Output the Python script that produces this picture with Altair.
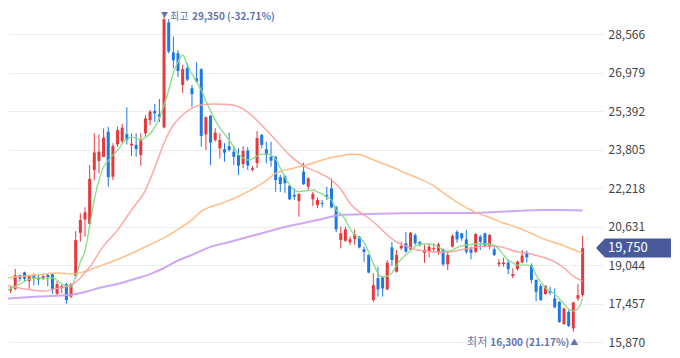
import altair as alt
import pandas as pd

# ---------------- data ----------------
OPEN = [18220, 18000, 18070, 18630, 18750, 18390, 18630, 18530, 18490, 18650,
        18670, 17870, 18110, 18260, 17750, 18600, 20380, 20930, 20740, 22970,
        23340, 23510, 24540, 22690, 24020, 24150, 24440, 23980, 24000, 23580,
        24480, 25020, 25400, 25270, 24720, 29040, 27810, 27770, 26470, 27170,
        26330, 26740, 27120, 24430, 25200, 24200, 23860, 23820, 23950, 23720,
        23580, 23210, 23770, 22970, 23250, 24410, 23820, 23510, 23510, 22670,
        22720, 22320, 21940, 21690, 22900, 22280, 21760, 21520, 21610, 21940,
        22210, 21430, 20080, 20050, 19990, 20120, 20220, 19700, 19470, 17610,
        18510, 18550, 18050, 19780, 18780, 19740, 19950, 19700, 20290, 20000,
        19550, 19630, 19700, 19600, 19700, 19080, 19810, 20420, 20360, 20110,
        19700, 19600, 20220, 20360, 19810, 19700, 19080, 19090, 19150, 18600,
        18890, 19160, 19560, 19050, 18440, 18190, 17860, 18000, 17680, 17530,
        16620, 17120, 16440, 17670, 17820]
HIGH = [18310, 18150, 18890, 18650, 18780, 18640, 18710, 18640, 18640, 18680,
        18710, 18380, 18270, 18320, 18310, 20450, 21180, 21430, 23170, 24480,
        24440, 24680, 24750, 24070, 24750, 24860, 25550, 24480, 24480, 24480,
        25230, 25440, 25680, 25890, 29350, 29180, 28460, 27910, 27290, 27370,
        26470, 27400, 27150, 25160, 25230, 24680, 24480, 24070, 24500, 23920,
        23860, 23950, 23910, 23130, 24570, 24450, 24130, 24130, 23540, 22760,
        22760, 22350, 22210, 22010, 23270, 22670, 22070, 21840, 21730, 22280,
        22620, 21500, 20630, 20630, 20220, 20520, 20250, 19810, 19490, 18710,
        18980, 18600, 19260, 20010, 19670, 20010, 20420, 20420, 20360, 20040,
        19880, 19920, 19950, 19970, 19740, 19600, 20330, 20490, 20380, 20490,
        19810, 20360, 20290, 20380, 20330, 19780, 19290, 19350, 19290, 18920,
        19230, 19670, 19640, 19120, 18460, 18270, 18230, 18160, 18090, 17570,
        17300, 17200, 17540, 18270, 20250]
LOW = [17900, 17900, 18000, 18380, 18380, 18080, 18220, 18220, 18440, 18180,
       17870, 17820, 17900, 17460, 17690, 18500, 20010, 20220, 20740, 22550,
       22830, 23490, 22280, 22550, 23920, 24070, 24020, 23540, 23510, 23140,
       24340, 24820, 24940, 24940, 24680, 27770, 27150, 26800, 26140, 26620,
       25550, 26550, 23920, 23790, 23170, 24130, 23450, 23310, 23720, 23170,
       22760, 23050, 22970, 22900, 23050, 23860, 23240, 23100, 22070, 22070,
       22020, 21730, 21730, 21040, 22350, 22140, 21480, 21390, 21430, 21730,
       21390, 20410, 19740, 20010, 19880, 19880, 19740, 19190, 18710, 17540,
       17750, 17750, 18020, 19010, 18740, 19670, 19560, 19670, 19880, 19810,
       19140, 19370, 19600, 19470, 19010, 18850, 19780, 19970, 20050, 19510,
       19290, 19540, 19670, 19780, 19700, 19420, 18980, 18980, 18670, 18510,
       18820, 19120, 19150, 18300, 17570, 17580, 17820, 17820, 17270, 16670,
       16580, 16500, 16300, 17570, 17740]
CLOSE = [18040, 18070, 18630, 18490, 18490, 18630, 18490, 18460, 18600, 18560,
         18070, 18270, 18180, 17610, 18270, 20080, 20910, 21220, 22600, 23690,
         23720, 24300, 22670, 23950, 24610, 24710, 24200, 24050, 23830, 24200,
         25090, 25370, 25300, 25140, 29170, 27840, 27480, 27040, 27120, 26690,
         26090, 26600, 24370, 25140, 24090, 24500, 24200, 23680, 23790, 23510,
         23140, 23750, 23150, 23040, 24280, 24000, 23580, 23350, 22550, 22390,
         22420, 21760, 21870, 21980, 22380, 22620, 21980, 21730, 21570, 21870,
         21430, 20520, 20360, 20520, 20110, 20320, 19780, 19590, 18740, 18230,
         18050, 18090, 19150, 19260, 19470, 19840, 19600, 20380, 19950, 19890,
         19680, 19810, 19750, 19910, 19080, 19470, 20250, 20110, 20150, 19600,
         19560, 20330, 20010, 19840, 20290, 19470, 19150, 19150, 18880, 18680,
         19190, 19440, 19370, 18440, 17950, 17610, 18190, 17910, 17310, 16710,
         17260, 16540, 17510, 17810, 19750]

MA5_IDX = [0, 3, 6, 10, 12] + list(range(14, 125))
MA5_VAL = [17980, 18270, 18520, 18520, 18270,
           18150, 18560, 19180, 19630, 20660, 21730, 22550, 23090, 23340, 23580,
           23790, 24040, 24240, 24320, 24280, 24200, 24320, 24450, 24740, 25110,
           25640, 26260, 26960, 27410, 27700, 27290, 26920, 26590, 26260, 25810,
           25400, 25020, 24700, 24450, 24200, 23910, 23620, 23460, 23380, 23420,
           23540, 23620, 23620, 23580, 23420, 23050, 22680, 22350, 22140, 22080,
           22100, 22120, 22140, 22060, 21980, 21850, 21730, 21320, 21150, 20910,
           20540, 20290, 20170, 20000, 19590, 19100, 18720, 18560, 18600, 18720,
           19050, 19300, 19470, 19630, 19820, 19920, 19920, 19920, 19880, 19800,
           19670, 19630, 19670, 19770, 19840, 19880, 19900, 19920, 19920, 19920,
           19920, 19860, 19710, 19470, 19260, 19140, 19050, 19050, 19050, 19010,
           18640, 18350, 18110, 17980, 17860, 17650, 17450, 17240, 17160, 17240, 17690]

MA20_IDX = [0, 4, 8, 11, 14, 16, 18, 21, 24, 27, 30, 32, 34, 36, 38, 40, 42, 45,
            48, 51, 53, 56, 58, 61, 64, 67, 70, 72, 74, 76, 78, 80, 82, 84, 86,
            88, 90, 92, 94, 96, 98, 100, 102, 104, 106, 108, 110, 112, 114, 116,
            118, 120, 122, 124]
MA20_VAL = [18230, 18070, 17980, 18090, 18230, 18520, 18970, 19840, 20490, 21320,
            22140, 23050, 24080, 24820, 25230, 25500, 25640, 25680, 25660, 25480,
            25190, 24610, 24200, 23580, 23130, 22880, 22550, 22180, 21590, 21240,
            20990, 20660, 20290, 20000, 19840, 19690, 19630, 19590, 19570, 19610,
            19690, 19750, 19820, 19840, 19820, 19710, 19590, 19550, 19450, 19340,
            19180, 18930, 18600, 18390]

MA60_IDX = [0, 7, 11, 14, 17, 21, 24, 28, 31, 34, 37, 40, 42, 46, 49, 53, 56, 58,
            62, 65, 68, 70, 72, 74, 76, 78, 80, 83, 86, 89, 92, 95, 98, 101, 104,
            107, 110, 113, 116, 119, 122, 124]
MA60_VAL = [18520, 18650, 18720, 18680, 18790, 19070, 19280, 19620, 19900, 20170,
            20520, 20910, 21260, 21570, 21790, 22180, 22530, 22830, 23050, 23190,
            23380, 23480, 23540, 23610, 23600, 23460, 23300, 23090, 22830, 22600,
            22310, 21900, 21520, 21220, 21010, 20780, 20600, 20350, 20100, 19920,
            19690, 19540]

MA120_IDX = [0, 7, 14, 17, 20, 24, 28, 31, 34, 37, 40, 44, 48, 52, 56, 60, 64, 68,
             72, 78, 85, 92, 99, 105, 110, 115, 119, 124]
MA120_VAL = [17670, 17760, 17830, 17940, 18110, 18270, 18500, 18680, 18930, 19240,
             19470, 19800, 20000, 20210, 20410, 20620, 20780, 20950, 21110, 21150,
             21180, 21190, 21190, 21240, 21280, 21320, 21320, 21300]

Y_TICKS = [15870, 17457, 19044, 20631, 22218, 23805, 25392, 26979, 28566]

HIGH_IDX, HIGH_VAL = 34, 29350
LOW_IDX, LOW_VAL = 122, 16300
HIGH_WORD, HIGH_TEXT = "최고", "29,350 (-32.71%)"
LOW_WORD, LOW_TEXT = "최저", "16,300 (21.17%)"

# ---------------- styles ----------------
RED = "#e7383d"
BLUE = "#1d78e6"
FONT = "Noto Sans CJK KR"
ANN = "#6373ad"

idx = list(range(len(OPEN)))
candles = pd.DataFrame({
    "idx": idx, "open": OPEN, "high": HIGH, "low": LOW, "close": CLOSE,
    "dir": ["up" if c >= o else "down" for o, c in zip(OPEN, CLOSE)],
})

H = 340
TOP = 29637
BOTTOM = TOP - H * 41.18
xs = alt.Scale(domain=[1.52, 127.31], nice=False, zero=False)
ys = alt.Scale(domain=[BOTTOM, TOP], nice=False, zero=False)
col = alt.Color("dir:N", scale=alt.Scale(domain=["up", "down"], range=[RED, BLUE]), legend=None)
X = alt.X("idx:Q", scale=xs, axis=None)

yaxis = alt.Axis(orient="right", values=Y_TICKS, format=",d", grid=True,
                 gridColor="#ededed", gridWidth=1, domain=False, ticks=False,
                 labelPadding=5, labelFontSize=12, labelColor="#444444",
                 labelFont=FONT, title="")


def Y(field):
    return alt.Y(field, scale=ys, axis=yaxis)


base = alt.Chart(candles)
wick = base.mark_rule(clip=True, strokeWidth=1).encode(
    x=X, y=Y("low:Q"), y2="high:Q", color=col)
body = base.mark_bar(clip=True, width=3).encode(
    x=X, y=Y("open:Q"), y2="close:Q", color=col)


def ma_line(ix, vals, color, w):
    df = pd.DataFrame({"idx": ix, "v": vals})
    return alt.Chart(df).mark_line(clip=True, interpolate="monotone", color=color,
                                   strokeWidth=w, opacity=0.9).encode(
        x=X, y=Y("v:Q"))


l120 = ma_line(MA120_IDX, MA120_VAL, "#c79ef5", 2)
l60 = ma_line(MA60_IDX, MA60_VAL, "#ffb77a", 1.5)
l20 = ma_line(MA20_IDX, MA20_VAL, "#ff9c9c", 1.5)
l5 = ma_line(MA5_IDX, MA5_VAL, "#84da84", 1.4)

hi = alt.Chart(pd.DataFrame({"idx": [HIGH_IDX], "v": [HIGH_VAL]}))
lo = alt.Chart(pd.DataFrame({"idx": [LOW_IDX], "v": [LOW_VAL]}))
Yv = Y("v:Q")

hi_tri = hi.mark_text(text="▼", font=FONT, fontSize=7, color=ANN, align="center",
                      baseline="middle", dx=0.5, dy=0.5).encode(x=X, y=Yv)
hi_word = hi.mark_text(text=HIGH_WORD, font=FONT, fontSize=10, color=ANN, align="left",
                       baseline="middle", dx=6, dy=2).encode(x=X, y=Yv)
hi_txt = hi.mark_text(text=HIGH_TEXT, font=FONT, fontSize=10, fontWeight="bold", color=ANN,
                      align="left", baseline="middle", dx=28, dy=2).encode(x=X, y=Yv)

lo_tri = lo.mark_text(text="▲", font=FONT, fontSize=8, color=ANN, align="center",
                      baseline="middle", dx=1, dy=11).encode(x=X, y=Yv)
lo_txt = lo.mark_text(text=LOW_TEXT, font=FONT, fontSize=10, fontWeight="bold", color=ANN,
                      align="right", baseline="middle", dx=-4, dy=11).encode(x=X, y=Yv)
lo_word = lo.mark_text(text=LOW_WORD, font=FONT, fontSize=11, color=ANN, align="right",
                       baseline="middle", dx=-86, dy=11).encode(x=X, y=Yv)

last = alt.Chart(pd.DataFrame({"v": [CLOSE[-1]]}))
BADGE = "M-1,0 L-0.76,-0.253 L1,-0.253 L1,0.253 L-0.76,0.253 Z"
badge = last.mark_point(shape=BADGE, size=5625, filled=True, fill="#485a9a",
                        opacity=1, strokeWidth=0).encode(x=alt.value(625.5), y=Yv)
badge_txt = last.mark_text(font=FONT, fontSize=13, color="white", align="left",
                           baseline="middle").encode(
    x=alt.value(600), y=Yv, text=alt.Text("v:Q", format=",d"))

chart = alt.layer(
    wick, body, l120, l60, l20, l5,
    hi_tri, hi_word, hi_txt, lo_tri, lo_txt, lo_word, badge, badge_txt
).properties(
    width=595, height=H,
    padding={"left": 0, "top": 0, "right": 0, "bottom": 0},
    background="white",
).configure_view(stroke="transparent")

chart.save("out.html", embed_options={"renderer": "svg", "actions": False})
